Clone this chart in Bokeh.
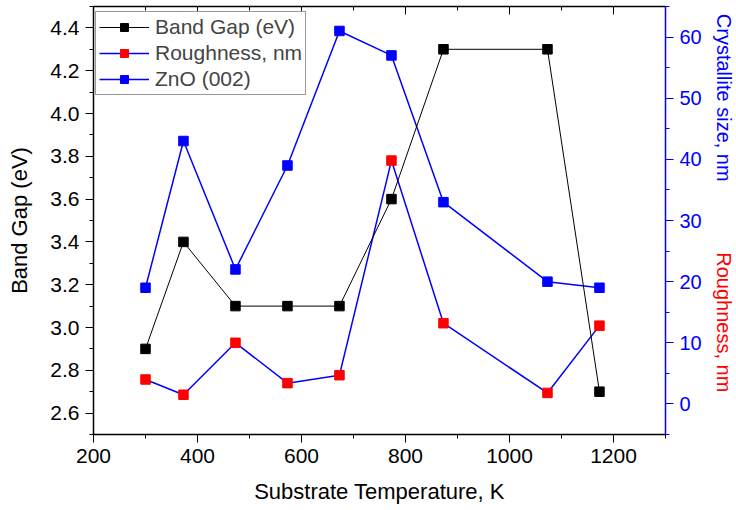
import math
from bokeh.plotting import figure
from bokeh.layouts import row
from bokeh.models import (Range1d, LinearAxis, SingleIntervalTicker, Label,
                          Legend, LegendItem, PrintfTickFormatter)
from bokeh.embed import file_html
from bokeh.resources import INLINE

# ---- data ----
temperature = [300, 373, 473, 573, 673, 773, 873, 1073, 1173]
band_gap = [2.9, 3.4, 3.1, 3.1, 3.1, 3.6, 4.3, 4.3, 2.7]
roughness = [4.0, 1.5, 10.0, 3.4, 4.7, 39.8, 13.2, 1.8, 12.8]
crystallite = [19, 43, 22, 39, 61, 57, 33, 20, 19]

FONT = "Liberation Sans"
FS = "21px"
FS_TITLE = "22px"
FRAME_H = 428
TOP = 6
BOTTOM = 75

p = figure(frame_width=572, frame_height=FRAME_H,
           x_range=Range1d(200, 1300), y_range=Range1d(2.5, 4.5),
           output_backend="svg", toolbar_location=None,
           min_border_left=93, min_border_right=40,
           min_border_top=TOP, min_border_bottom=BOTTOM)
p.extra_y_ranges = {"right": Range1d(-5, 65)}
p.outline_line_color = None
p.xgrid.visible = False
p.ygrid.visible = False

xa = p.xaxis[0]
xa.ticker = SingleIntervalTicker(interval=200, num_minor_ticks=2)
xa.axis_label = "Substrate Temperature, K"
xa.major_label_standoff = 6
xa.axis_label_standoff = 13
ya = p.yaxis[0]
ya.ticker = SingleIntervalTicker(interval=0.2, num_minor_ticks=2)
ya.formatter = PrintfTickFormatter(format="%.1f")
ya.axis_label = "Band Gap (eV)"
ya.major_label_standoff = 6
ya.axis_label_standoff = 15

for ax in (xa, ya):
    ax.axis_line_width = 1.5
    ax.axis_line_color = "black"
    ax.major_tick_line_color = "black"
    ax.minor_tick_line_color = "black"
    ax.major_tick_out = 8
    ax.major_tick_in = 0
    ax.minor_tick_out = 4
    ax.minor_tick_in = 0
    ax.major_label_text_font = FONT
    ax.major_label_text_font_size = FS
    ax.major_label_text_color = "black"
    ax.axis_label_text_font = FONT
    ax.axis_label_text_font_size = FS_TITLE
    ax.axis_label_text_font_style = "normal"
    ax.axis_label_text_color = "black"

# top mirror axis: inward ticks, no labels
top = LinearAxis(ticker=SingleIntervalTicker(interval=200, num_minor_ticks=2),
                 major_label_text_font_size="0px", major_label_text_color=None,
                 major_label_standoff=0,
                 major_tick_in=8, major_tick_out=0, minor_tick_in=4, minor_tick_out=0,
                 axis_line_width=1.5)
p.add_layout(top, "above")

# right axis (crystallite size / roughness)
right = LinearAxis(y_range_name="right",
                   ticker=SingleIntervalTicker(interval=10, num_minor_ticks=2),
                   axis_line_color="blue", axis_line_width=1.5,
                   major_tick_line_color="blue", minor_tick_line_color="blue",
                   major_tick_out=8, major_tick_in=0, minor_tick_out=4, minor_tick_in=0,
                   major_label_text_color="blue", major_label_text_font=FONT,
                   major_label_text_font_size="20px", major_label_standoff=6)
p.add_layout(right, "right")

r_c_line = p.line(temperature, crystallite, y_range_name="right", color="blue", line_width=1.5)
r_c_pts = p.scatter(temperature, crystallite, y_range_name="right", marker="square",
                    size=9.5, fill_color="blue", line_color="blue")
r_r_line = p.line(temperature, roughness, y_range_name="right", color="blue", line_width=1.5)
r_r_pts = p.scatter(temperature, roughness, y_range_name="right", marker="square",
                    size=9.5, fill_color="red", line_color="red")
r_b_line = p.line(temperature, band_gap, color="black", line_width=1)
r_b_pts = p.scatter(temperature, band_gap, marker="square", size=9.5,
                    fill_color="black", line_color="black")

legend = Legend(items=[
    LegendItem(label="Band Gap (eV)", renderers=[r_b_line, r_b_pts]),
    LegendItem(label="Roughness, nm", renderers=[r_r_line, r_r_pts]),
    LegendItem(label="ZnO (002)", renderers=[r_c_line, r_c_pts]),
], location=(2, 339))
legend.border_line_color = "#333333"
legend.border_line_width = 1
legend.label_text_font = FONT
legend.label_text_font_size = FS
legend.glyph_width = 50
legend.glyph_height = 20
legend.label_height = 24
legend.spacing = 2
legend.padding = 3
legend.label_standoff = 6
legend.margin = 0
p.add_layout(legend)

# narrow side strip carrying the two right-hand axis titles
side = figure(frame_width=31, frame_height=FRAME_H,
              x_range=Range1d(0, 1), y_range=Range1d(-5, 65),
              x_axis_location=None, y_axis_location=None,
              output_backend="svg", toolbar_location=None,
              min_border_left=0, min_border_right=0,
              min_border_top=TOP, min_border_bottom=BOTTOM)
side.outline_line_color = None
side.xgrid.visible = False
side.ygrid.visible = False
side.add_layout(Label(x=0.6, y=63.8, text="Crystallite size, nm",
                      angle=-math.pi / 2, text_align="left", text_baseline="middle",
                      text_color="blue", text_font=FONT, text_font_size="20px"))
side.add_layout(Label(x=0.6, y=24.8, text="Roughness, nm",
                      angle=-math.pi / 2, text_align="left", text_baseline="middle",
                      text_color="red", text_font=FONT, text_font_size="20px"))

layout = row(p, side)
open("out.html", "w").write(file_html(layout, INLINE))
